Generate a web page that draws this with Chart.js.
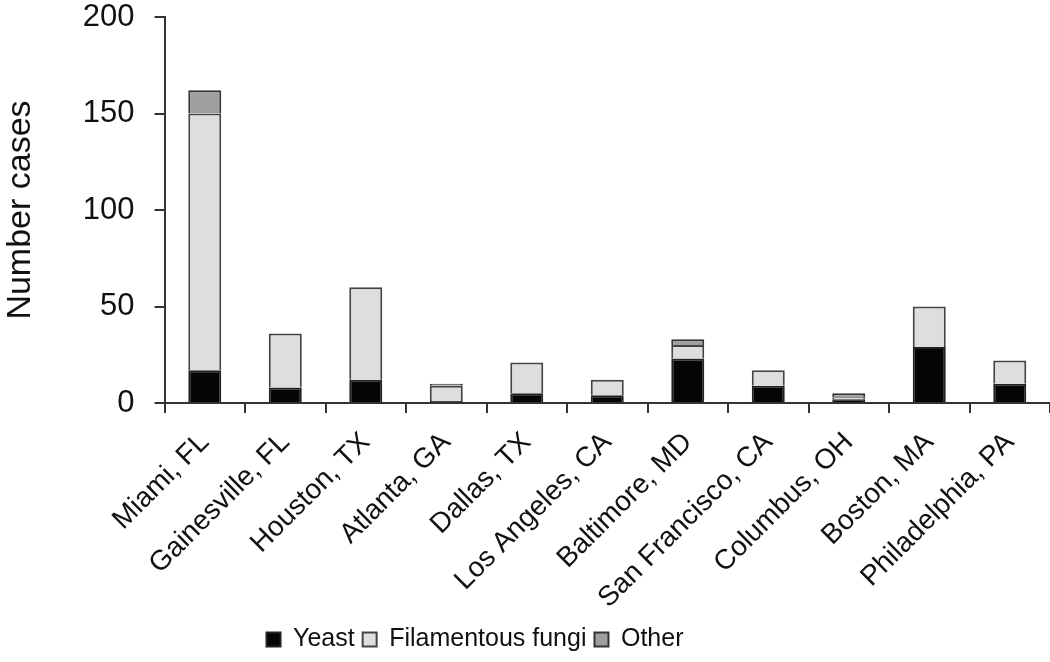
<!DOCTYPE html>
<html>
<head>
<meta charset="utf-8">
<script src="https://cdn.jsdelivr.net/npm/chart.js@4/dist/chart.umd.min.js"></script>
<style>
  html, body { margin: 0; padding: 0; background: #fff; }
  #wrap { width: 1050px; height: 662px; }
</style>
</head>
<body>
<div id="wrap"><canvas id="grafico" width="1050" height="662"></canvas></div>
<script>
const cidades = ['Miami, FL', 'Gainesville, FL', 'Houston, TX', 'Atlanta, GA', 'Dallas, TX',
  'Los Angeles, CA', 'Baltimore, MD', 'San Francisco, CA', 'Columbus, OH', 'Boston, MA', 'Philadelphia, PA'];
const levedura = [17, 8, 12, 1, 5, 4, 23, 9, 2, 29, 10];
const fungosFilamentosos = [133, 28, 48, 8, 16, 8, 7, 8, 1, 21, 12];
const outros = [12, 0, 0, 1, 0, 0, 3, 0, 2, 0, 0];
const ticksY = [0, 50, 100, 150, 200];

const fonte = 'Arial, "Liberation Sans", sans-serif';

// puxa a legenda um pouco para a esquerda, como no original
const deslocaLegenda = {
    id: 'deslocaLegenda',
    afterLayout(chart) {
        chart.legend.right -= 100;
    }
};

const eixoX = {
    stacked: true,
    afterFit: eixo => { eixo.height = 216; },
    grid: { drawOnChartArea: false, color: '#333', tickLength: 10, lineWidth: 2 },
    border: { color: '#333', width: 2 },
    ticks: {
        color: '#111',
        maxRotation: 45,
        minRotation: 45,
        autoSkip: false,
        padding: 13,
        font: { family: fonte, size: 28 }
    }
};

const eixoY = {
    stacked: true,
    min: 0,
    max: 200,
    afterBuildTicks: eixo => { eixo.ticks = ticksY.map(v => ({ value: v })); },
    afterFit: eixo => { eixo.paddingTop = 17; },
    grid: { drawOnChartArea: false, color: '#333', tickLength: 10, lineWidth: 2 },
    border: { color: '#333', width: 2 },
    title: {
        display: true,
        text: 'Number cases',
        color: '#111',
        font: { family: fonte, size: 34 },
        padding: { top: 0, bottom: 22 }
    },
    ticks: {
        color: '#111',
        padding: 20,
        font: { family: fonte, size: 31 }
    }
};

new Chart(document.getElementById('grafico'), {
    type: 'bar',
    data: {
        labels: cidades,
        datasets: [{
            label: 'Yeast',
            data: levedura,
            backgroundColor: '#050505',
            borderColor: '#222',
            borderWidth: 2,
            barPercentage: 0.82,
            categoryPercentage: 0.5
        }, {
            label: 'Filamentous fungi',
            data: fungosFilamentosos,
            backgroundColor: '#dedede',
            borderColor: '#444',
            borderWidth: 2,
            barPercentage: 0.82,
            categoryPercentage: 0.5
        }, {
            label: 'Other',
            data: outros,
            backgroundColor: '#9e9e9e',
            borderColor: '#333',
            borderWidth: 2,
            barPercentage: 0.82,
            categoryPercentage: 0.5
        }]
    },
    options: {
        responsive: false,
        animation: false,
        layout: { padding: { top: 0, right: 0, left: 0, bottom: 0 } },
        plugins: {
            tooltip: { enabled: false },
            legend: {
                position: 'bottom',
                labels: {
                    color: '#111',
                    boxWidth: 14,
                    boxHeight: 14,
                    padding: 8,
                    font: { family: fonte, size: 25 }
                }
            }
        },
        scales: { x: eixoX, y: eixoY }
    },
    plugins: [deslocaLegenda]
});
</script>
</body>
</html>
